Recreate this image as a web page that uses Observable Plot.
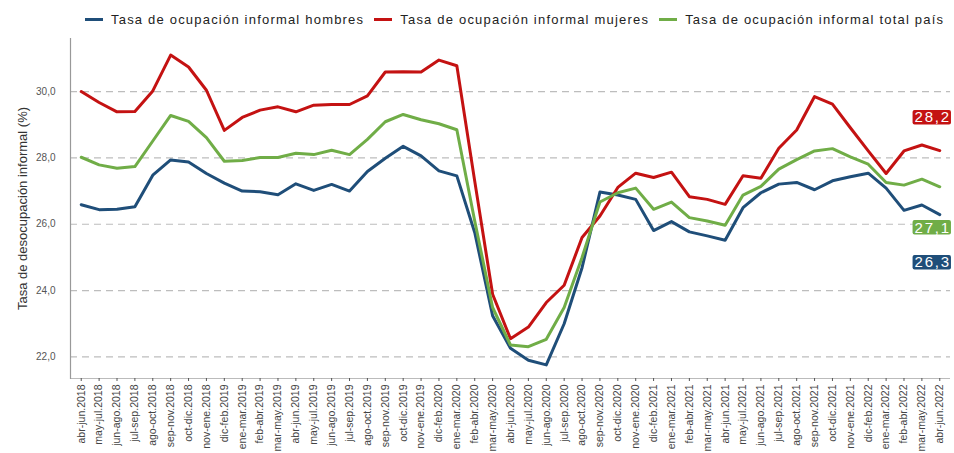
<!DOCTYPE html>
<html><head><meta charset="utf-8">
<script src="https://cdn.jsdelivr.net/npm/d3@7"></script>
<script src="https://cdn.jsdelivr.net/npm/@observablehq/plot@0.6"></script>
<style>
body{margin:0;background:#fff;font-family:"Liberation Sans",Arial,sans-serif;}
#legend{position:relative;height:35px;width:954px;display:flex;align-items:center;padding-left:85px;box-sizing:border-box;gap:10px;padding-top:3px}
.item{display:flex;align-items:center;font-size:13px;letter-spacing:1.2px;color:#222;white-space:nowrap}
.sw{width:18px;height:3px;margin-right:8px}
#chart svg text{font-family:"Liberation Sans",Arial,sans-serif}
text.endlbl{letter-spacing:1.8px}
</style></head><body>
<div id="legend"></div><div id="chart"></div>
<script>
const periods = ["abr-jun.2018","may-jul.2018","jun-ago.2018","jul-sep.2018","ago-oct.2018","sep-nov.2018","oct-dic.2018","nov-ene.2018","dic-feb.2019","ene-mar.2019","feb-abr.2019","mar-may.2019","abr-jun.2019","may-jul.2019","jun-ago.2019","jul-sep.2019","ago-oct.2019","sep-nov.2019","oct-dic.2019","nov-ene.2019","dic-feb.2020","ene-mar.2020","feb-abr.2020","mar-may.2020","abr-jun.2020","may-jul.2020","jun-ago.2020","jul-sep.2020","ago-oct.2020","sep-nov.2020","oct-dic.2020","nov-ene.2020","dic-feb.2021","ene-mar.2021","feb-abr.2021","mar-may.2021","abr-jun.2021","may-jul.2021","jun-ago.2021","jul-sep.2021","ago-oct.2021","sep-nov.2021","oct-dic.2021","nov-ene.2021","dic-feb.2022","ene-mar.2022","feb-abr.2022","mar-may.2022","abr-jun.2022"];
const hombres = [26.59,26.44,26.45,26.53,27.48,27.94,27.88,27.53,27.24,27.0,26.98,26.89,27.22,27.02,27.20,27.0,27.59,27.99,28.35,28.06,27.61,27.46,25.75,23.24,22.26,21.9,21.76,23.0,24.69,26.97,26.88,26.75,25.81,26.08,25.77,25.65,25.52,26.5,26.95,27.21,27.26,27.04,27.31,27.43,27.54,27.09,26.42,26.58,26.29];
const mujeres = [30.0,29.67,29.39,29.4,30.02,31.1,30.74,30.04,28.83,29.22,29.44,29.54,29.39,29.59,29.61,29.61,29.87,30.59,30.60,30.59,30.95,30.78,27.3,23.89,22.55,22.9,23.64,24.16,25.6,26.25,27.11,27.54,27.41,27.57,26.83,26.75,26.6,27.46,27.39,28.29,28.84,29.85,29.62,28.91,28.21,27.53,28.21,28.39,28.22];
const total = [28.02,27.79,27.69,27.74,28.51,29.28,29.10,28.61,27.90,27.92,28.01,28.01,28.14,28.10,28.23,28.10,28.56,29.09,29.31,29.15,29.03,28.85,26.1,23.49,22.36,22.31,22.53,23.49,25.0,26.67,26.95,27.09,26.45,26.67,26.2,26.1,25.97,26.88,27.14,27.66,27.95,28.21,28.28,28.03,27.81,27.26,27.18,27.36,27.13];
const seriesNames = ["Tasa de ocupación informal hombres","Tasa de ocupación informal mujeres","Tasa de ocupación informal total país"];
const seriesColors = ["#1F4E79","#C41212","#70AD47"];
const yTicks = [22,24,26,28,30];
const yTitle = "Tasa de desocupación informal (%)";

const seriesValues = [hombres, mujeres, total];
const data = [];
seriesValues.forEach((vals, k) => vals.forEach((v, i) => data.push({period: periods[i], value: v, serie: seriesNames[k]})));
const fmt = v => v.toFixed(1).replace(".", ",");
const labelDy = [48, -33, 41];
const yDomain = [21.35, 31.6];

// legend
const legend = document.getElementById("legend");
seriesNames.forEach((n, k) => {
  const it = document.createElement("div"); it.className = "item";
  const sw = document.createElement("div"); sw.className = "sw"; sw.style.background = seriesColors[k];
  const tx = document.createElement("span"); tx.textContent = n;
  it.appendChild(sw); it.appendChild(tx); legend.appendChild(it);
});

const last = periods.length - 1;
const labelMarks = seriesValues.map((vals, k) =>
  Plot.text([{period: periods[last], value: vals[last], k}], {
    x: "period", y: "value", text: d => fmt(d.value), fill: "#fefefe", fontSize: 15,
    textAnchor: "middle", dx: -7, dy: labelDy[k]
  })
);

const plot = Plot.plot({
  width: 954, height: 418,
  marginLeft: 70, marginRight: 4, marginTop: 3, marginBottom: 75,
  style: {background: "#fff", fontFamily: "Liberation Sans, Arial, sans-serif"},
  x: {type: "point", domain: periods, padding: 0.6},
  y: {domain: yDomain},
  color: {domain: seriesNames, range: seriesColors},
  marks: [
    Plot.ruleY(yTicks, {stroke: "#bdbdbd", strokeWidth: 1.2, strokeDasharray: "7,5"}),
    Plot.ruleY([yDomain[0]], {stroke: "#bbb", strokeWidth: 1.2}),
    Plot.frame({anchor: "left", stroke: "#999", strokeWidth: 1.2}),
    Plot.axisY(yTicks, {tickSize: 0, tickPadding: 15, tickFormat: fmt, fontSize: 10, fill: "#555", label: null}),
    Plot.axisX({tickRotate: -90, tickSize: 3, tickPadding: 3, fontSize: 10.5, fill: "#444", stroke: "#555", label: null}),
    Plot.text([yTitle], {frameAnchor: "left", textAnchor: "middle", dx: -48, rotate: -90, fontSize: 13, fill: "#333"}),
    Plot.line(data, {x: "period", y: "value", stroke: "serie", strokeWidth: 3}),
    ...labelMarks
  ]
});
document.getElementById("chart").appendChild(plot);

// colored boxes behind end labels
const lblText = seriesValues.map(v => fmt(v[last]));
plot.querySelectorAll("text").forEach(t => {
  const k = lblText.indexOf(t.textContent);
  if (k < 0) return;
  const fillOwner = t.closest("[fill]");
  if (!fillOwner || fillOwner.getAttribute("fill") !== "#fefefe") return;
  t.classList.add("endlbl");
  const b = t.getBBox();
  const r = document.createElementNS("http://www.w3.org/2000/svg", "rect");
  r.setAttribute("x", b.x - 2); r.setAttribute("y", b.y + 1.5);
  r.setAttribute("width", b.width + 2); r.setAttribute("height", b.height - 2.5);
  r.setAttribute("rx", 2); r.setAttribute("fill", seriesColors[k]);
  const tr = t.getAttribute("transform");
  if (tr) r.setAttribute("transform", tr);
  t.parentNode.insertBefore(r, t);
});
</script>
</body></html>
